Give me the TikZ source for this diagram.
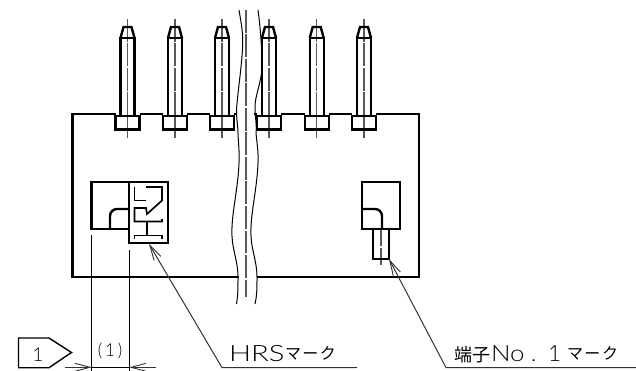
\documentclass[tikz,border=0pt]{standalone}
\usepackage{fontspec}
\usepackage{graphicx}
\setmainfont{Lato Light}
\newfontfamily\jpfont{Noto Sans CJK JP}
\usetikzlibrary{arrows.meta}
\tikzset{
  thick line/.style={line width=2.4pt,line join=miter},
  logo line/.style={line width=1.7pt},
  thin line/.style={line width=1pt},
  center line/.style={line width=1.4pt,draw=black!65,dash pattern=on 22.6pt off 1.9pt},
  break line/.style={line width=1pt},
  leader/.style={line width=1pt,draw=black!80,{Straight Barb[length=15pt,width=8pt,line width=0.9pt]}-},
  label/.style={inner sep=0pt,outer sep=0pt,anchor=base west,text=black},
}
\newcommand{\pinat}[1]{%
  \draw[center line] (#1,19) -- (#1,138);
  \draw[thick line] (#1-7,116) -- (#1-7,38) -- (#1+7,38) -- (#1+7,116);
  \draw[thick line] (#1-7,38) -- (#1-4,27) -- (#1+4,27) -- (#1+7,38);
  \draw[thick line] (#1-12,116) rectangle (#1+12,129.5);
}
\begin{document}
\begin{tikzpicture}[x=1pt,y=-1pt]
\useasboundingbox (0,0) rectangle (636,371);
% pins
\foreach \px in {127.5,175,222,269,316.7,364} {\pinat{\px}}
% body outline
\draw[thick line] (115.5,114) -- (72.5,114) -- (72.5,277) -- (239,277);
\draw[thick line] (139.5,114) -- (163,114);
\draw[thick line] (187,114) -- (210,114);
\draw[thick line] (234,114) -- (237,114);
\draw[thick line] (254,114) -- (257,114);
\draw[thick line] (281,114) -- (304.7,114);
\draw[thick line] (328.7,114) -- (352,114);
\draw[thick line] (376,114) -- (418.7,114) -- (418.7,277) -- (256.5,277);
% break lines
\draw[center line] (246,10) -- (246,297);
\draw[break line] (239,10) .. controls (241,22) and (243,32) .. (242.7,43)
  .. controls (242.5,60) and (238,90) .. (236.7,107)
  .. controls (236,118) and (238,125) .. (238,133)
  .. controls (238.5,145) and (239.5,150) .. (239,163)
  .. controls (238,190) and (231,215) .. (232,236)
  .. controls (232.5,250) and (238,262) .. (238,277)
  .. controls (238,288) and (238,295) .. (236.5,304);
\draw[break line] (258,10) .. controls (260,25) and (262,45) .. (262,67)
  .. controls (261,85) and (255,95) .. (255,107)
  .. controls (255,118) and (257,125) .. (256,133)
  .. controls (257,145) and (258.5,150) .. (258,163)
  .. controls (257,190) and (250,215) .. (251,236)
  .. controls (251.5,250) and (257,262) .. (257,277)
  .. controls (257,288) and (257,295) .. (255,304);
% left mark
\draw[thick line] (91.5,182) rectangle (129,229);
\draw[thick line] (129,182) rectangle (168,243);
\draw[thick line] (129,209) -- (117,209) arc[start angle=-90,end angle=-180,radius=7] -- (110,229);
% HRS logo
\draw[logo line] (134.5,187) -- (134.5,200.5) -- (146,200.5);
\draw[logo line] (146,187) -- (162,187) -- (162,200.5) -- (147,214) -- (146,208) -- (134.5,208) -- (134.5,221.5) -- (162,221.5) -- (162,219);
\draw[logo line] (146.7,221.5) -- (146.7,235.5);
\draw[logo line] (134.5,239) -- (134.5,235.5) -- (162,235.5) -- (162,239);
% right mark
\draw[center line,dash pattern=on 17pt off 1.9pt] (381,229) -- (381,266);
\draw[thick line] (362,182) rectangle (400,228.7);
\draw[thick line] (362,209) -- (375,209) arc[start angle=-90,end angle=0,radius=7] -- (382,228.7);
\draw[thick line] (373,228.7) -- (373,258.7) -- (388.7,258.7) -- (388.7,228.7);
% dimension
\draw[thin line] (91.7,235) -- (91.7,371);
\draw[thin line] (129.3,250) -- (129.3,371);
\coordinate (dimL) at (91.7,367.3);
\coordinate (dimR) at (129.3,367.3);
\coordinate (dimLe) at (65,367.3);
\coordinate (dimRe) at (156,367.3);
\draw[leader] (dimL) -- (dimLe);
\draw[leader] (dimR) -- (dimRe);
\draw[thin line] (dimL) -- (dimR);
\node[label,anchor=center] (dimtext) at (110,351) {\scalebox{1}[1.05]{\fontsize{17}{17}\selectfont (\,1\,)}};
% flag
\draw[line width=1.4pt] (18.5,338) -- (49,338) -- (71.5,352.5) -- (49,367.7) -- (18.5,367.7) -- cycle;
\node[label,anchor=center] (flagtext) at (38,355) {\fontsize{19}{19}\selectfont 1};
% leaders
\coordinate (hrsTip) at (149,244);
\coordinate (hrsKnee) at (222,367.6);
\coordinate (hrsEnd) at (357,367.6);
\draw[leader] (hrsTip) -- (hrsKnee) -- (hrsEnd);
\coordinate (noTip) at (389,259);
\coordinate (noKnee) at (446,367.6);
\coordinate (noEnd) at (636,367.6);
\draw[leader] (noTip) -- (noKnee) -- (noEnd);
% labels
\node[label] (hrsname) at (229,361) {\scalebox{1.3}[1]{\fontsize{22.5}{22.5}\selectfont HRS}};
\node[label] (hrskana) at (285,359.5) {\jpfont\fontsize{16}{16}\selectfont マ\hspace{1.5pt}ー\hspace{1.5pt}ク};
\node[label] (notanshi) at (454,361) {\jpfont\fontsize{18}{18}\selectfont 端子};
\node[label] (noname) at (491,361) {\scalebox{1.15}[1]{\fontsize{22.5}{22.5}\selectfont No}};
\node[label] (nodot) at (531,361) {\fontsize{22}{22}\selectfont .};
\node[label] (noone) at (548,361) {\fontsize{22.5}{22.5}\selectfont 1};
\node[label] (nokana) at (567,359.5) {\jpfont\fontsize{16}{16}\selectfont マ\hspace{1.5pt}ー\hspace{1.5pt}ク};
\end{tikzpicture}
\end{document}
